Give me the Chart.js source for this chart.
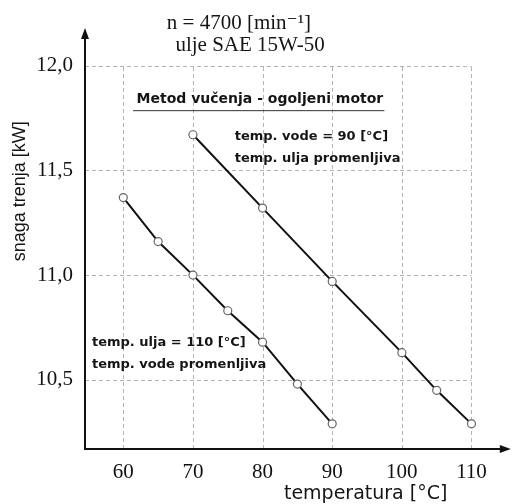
<!DOCTYPE html>
<html lang="sr">
    <head>
        <meta charset="utf-8" />
        <script src="https://cdn.jsdelivr.net/npm/chart.js@4.4.1/dist/chart.umd.min.js"></script>
        <title>snaga trenja</title>
        <style>
            body { margin: 0; background: #fff; }
        </style>
    </head>
    <body>
        <canvas id="grafik" width="515" height="504"></canvas>
        <script>
            // temp. ulja = 110 °C, temp. vode promenljiva
            const vodaTemp = [60, 65, 70, 75, 80, 85, 90];
            const snagaVoda = [11.37, 11.16, 11.0, 10.83, 10.68, 10.48, 10.29];
            // temp. vode = 90 °C, temp. ulja promenljiva
            const uljeTemp = [70, 80, 90, 100, 105, 110];
            const snagaUlje = [11.67, 11.32, 10.97, 10.63, 10.45, 10.29];
            // podeoci
            const xPodeoci = [60, 70, 80, 90, 100, 110];
            const yPodeoci = [10.5, 11.0, 11.5, 12.0];

            const serif = "'Liberation Serif', 'DejaVu Serif', serif";
            const sans = "'Liberation Sans', Arial, sans-serif";
            const siroki = "'DejaVu Sans', sans-serif";

            //mreza isprekidanim linijama
            const mreza = {
                id: "mreza",
                beforeDatasetsDraw(chart) {
                    const { ctx, scales: { x, y } } = chart;
                    ctx.save();
                    ctx.strokeStyle = "rgba(0,0,0,0.3)";
                    ctx.lineWidth = 1;
                    ctx.setLineDash([4, 3]);
                    const x0 = x.getPixelForValue(x.min), x1 = x.getPixelForValue(110);
                    const y0 = y.getPixelForValue(y.min), y1 = y.getPixelForValue(12.0);
                    xPodeoci.forEach((v) => {
                        const px = Math.round(x.getPixelForValue(v)) + 0.5;
                        ctx.beginPath(); ctx.moveTo(px, y0); ctx.lineTo(px, y1); ctx.stroke();
                    });
                    yPodeoci.forEach((v) => {
                        const py = Math.round(y.getPixelForValue(v)) + 0.5;
                        ctx.beginPath(); ctx.moveTo(x0, py); ctx.lineTo(x1, py); ctx.stroke();
                    });
                    ctx.restore();
                }
            };

            //ose sa strelicama i tekstovi
            const ose = {
                id: "ose",
                afterDraw(chart) {
                    const { ctx, chartArea: a, scales: { x, y } } = chart;
                    ctx.save();
                    ctx.strokeStyle = "#111";
                    ctx.fillStyle = "#111";
                    ctx.lineWidth = 2;
                    ctx.beginPath();
                    ctx.moveTo(a.left, a.top + 4); ctx.lineTo(a.left, a.bottom); ctx.lineTo(a.right - 4, a.bottom);
                    ctx.stroke();
                    ctx.beginPath();
                    ctx.moveTo(a.left, a.top - 2); ctx.lineTo(a.left - 4, a.top + 9); ctx.lineTo(a.left + 4, a.top + 9); ctx.closePath(); ctx.fill();
                    ctx.beginPath();
                    ctx.moveTo(a.right + 1, a.bottom); ctx.lineTo(a.right - 10, a.bottom - 4); ctx.lineTo(a.right - 10, a.bottom + 4); ctx.closePath(); ctx.fill();

                    const tekst = (t, vx, vy, font, align) => {
                        ctx.font = font;
                        ctx.textAlign = align;
                        ctx.textBaseline = "middle";
                        ctx.fillText(t, x.getPixelForValue(vx), y.getPixelForValue(vy));
                    };
                    ctx.fillStyle = "#151515";
                    tekst("n = 4700 [min\u207B\u00B9]", 76.6, 12.2, "21px " + serif, "center");
                    tekst("ulje SAE 15W-50", 78.2, 12.095, "21px " + serif, "center");
                    tekst("Metod vučenja - ogoljeni motor", 61.9, 11.84, "bold 14px " + siroki, "left");
                    ctx.lineWidth = 1;
                    ctx.strokeStyle = "#333";
                    ctx.beginPath();
                    ctx.moveTo(x.getPixelForValue(61.4), y.getPixelForValue(11.785));
                    ctx.lineTo(x.getPixelForValue(97.5), y.getPixelForValue(11.785));
                    ctx.stroke();
                    tekst("temp. vode = 90 [°C]", 76.0, 11.66, "bold 13px " + siroki, "left");
                    tekst("temp. ulja promenljiva", 76.0, 11.555, "bold 13px " + siroki, "left");
                    tekst("temp. ulja = 110 [°C]", 55.5, 10.68, "bold 13px " + siroki, "left");
                    tekst("temp. vode promenljiva", 55.5, 10.575, "bold 13px " + siroki, "left");
                    tekst("temperatura [°C]", 94.8, 9.955, "19px " + siroki, "center");
                    ctx.translate(20, y.getPixelForValue(11.4));
                    ctx.rotate(-Math.PI / 2);
                    ctx.font = "18px " + sans;
                    ctx.textAlign = "center";
                    ctx.fillText("snaga trenja [kW]", 0, 0);
                    ctx.restore();
                }
            };

            const tacke = { pointRadius: 4, pointBackgroundColor: "#fff", pointBorderColor: "#666", pointBorderWidth: 1.2, borderColor: "#111", borderWidth: 2, showLine: true };

            new Chart(document.getElementById("grafik").getContext("2d"), {
                type: "scatter",
                data: {
                    datasets: [
                        { label: "temp. ulja = 110 [°C]", data: vodaTemp.map((t, i) => ({ x: t, y: snagaVoda[i] })), ...tacke },
                        { label: "temp. vode = 90 [°C]", data: uljeTemp.map((t, i) => ({ x: t, y: snagaUlje[i] })), ...tacke }
                    ]
                },
                options: {
                    responsive: false,
                    animation: false,
                    layout: { padding: { top: 30, right: 2, left: 0, bottom: 0 } },
                    plugins: { legend: { display: false }, tooltip: { enabled: false } },
                    scales: {
                        x: {
                            min: 54.5, max: 115.5,
                            grid: { display: false, drawTicks: false },
                            border: { display: false },
                            ticks: { padding: 11, color: "#111", font: { family: serif, size: 21 } },
                            afterBuildTicks: (s) => { s.ticks = xPodeoci.map((v) => ({ value: v })); },
                            afterFit: (s) => { s.height = 55; }
                        },
                        y: {
                            min: 10.17, max: 12.17,
                            grid: { display: false, drawTicks: false },
                            border: { display: false },
                            ticks: { padding: 12, color: "#111", font: { family: serif, size: 21 },
                                callback: (v) => v.toFixed(1).replace(".", ",") },
                            afterBuildTicks: (s) => { s.ticks = yPodeoci.map((v) => ({ value: v })); },
                            afterFit: (s) => { s.width = 85; }
                        }
                    }
                },
                plugins: [mreza, ose]
            });
        </script>
    </body>
</html>
